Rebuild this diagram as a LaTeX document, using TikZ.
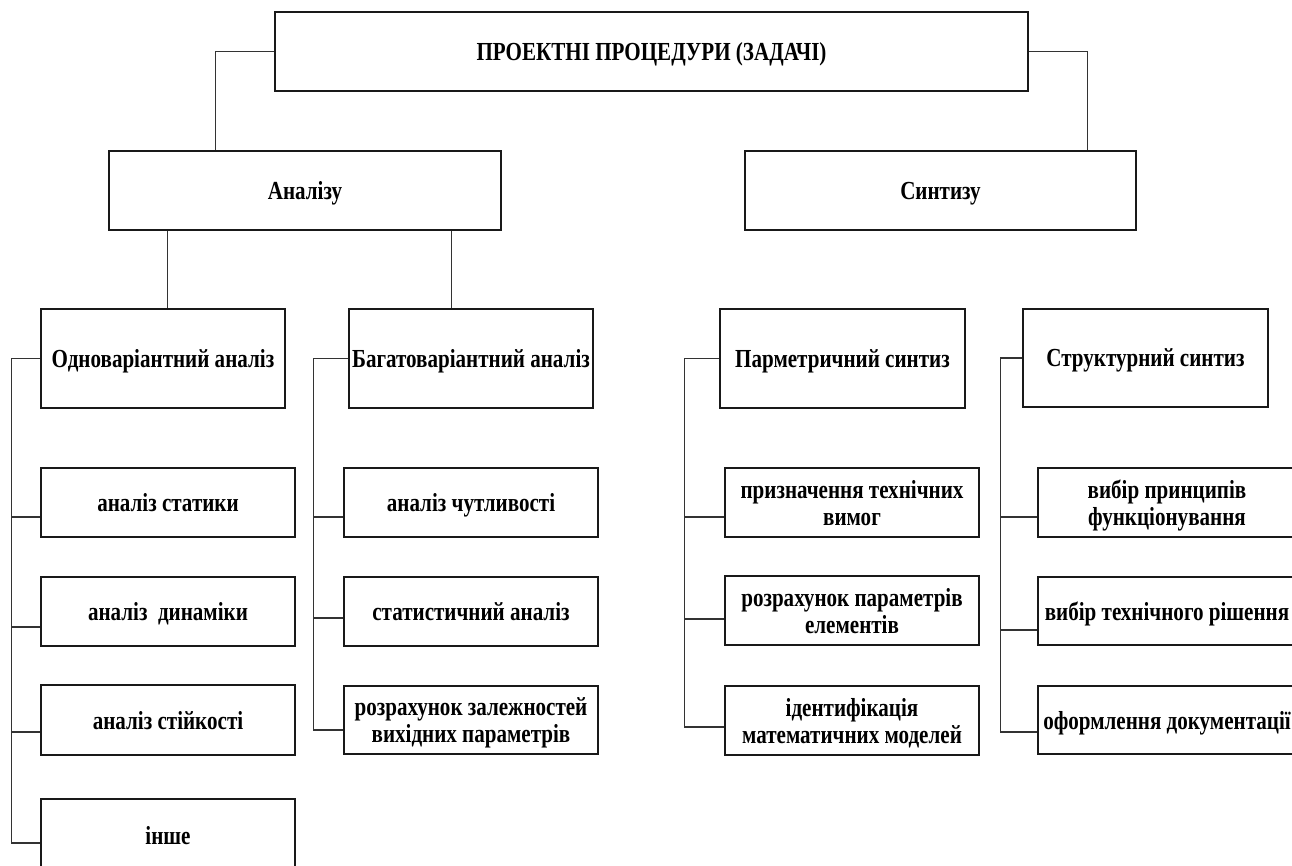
\documentclass[tikz,border=0pt]{standalone}
\usepackage{fontspec}
\setmainfont{Liberation Serif}[FakeStretch=0.81]
\begin{document}
\begin{tikzpicture}[x=1pt,y=-1pt,
  box/.style={draw=black!90, line width=1.2pt, rectangle, inner sep=0pt,
    align=center, text depth=0pt, font=\fontsize{26}{27}\selectfont\bfseries},
  link/.style={draw=black!80, line width=1.2pt}]
\useasboundingbox (0,0) rectangle (1292,866);
\clip (0,0) rectangle (1292,866);

% upper levels
\node[box, minimum width=753, minimum height=79] (top) at (651.5,51.5) {ПРОЕКТНІ ПРОЦЕДУРИ (ЗАДАЧІ)};
\node[box, minimum width=392, minimum height=79] (an)  at (305,190.5)   {Аналізу};
\node[box, minimum width=391, minimum height=79] (syn) at (940.5,190.5) {Синтизу};

% group heads
\node[box, minimum width=244, minimum height=99] (odn) at (163,358.5)   {Одноваріантний аналіз};
\node[box, minimum width=244, minimum height=99] (bag) at (471,358.5)   {Багатоваріантний аналіз};
\node[box, minimum width=245, minimum height=99] (par) at (842.5,358.5) {Парметричний синтиз};
\node[box, minimum width=245, minimum height=98] (str) at (1145.5,358)  {Структурний синтиз};

% one-variant analysis items
\node[box, minimum width=254, minimum height=69] (stat)  at (168,502.5) {аналіз статики};
\node[box, minimum width=254, minimum height=69] (dyn)   at (168,611.5) {аналіз\ \ динаміки};
\node[box, minimum width=254, minimum height=70] (stiy)  at (168,720)   {аналіз стійкості};
\node[box, minimum width=254, minimum height=72] (inshe) at (168,835)   {інше};

% multi-variant analysis items
\node[box, minimum width=254, minimum height=69] (chut)  at (471,502.5) {аналіз чутливості};
\node[box, minimum width=254, minimum height=69] (stat2) at (471,611.5) {статистичний аналіз};
\node[box, minimum width=254, minimum height=68] (rozr)  at (471,720)   {розрахунок залежностей\\вихідних параметрів};

% parametric synthesis items
\node[box, minimum width=254, minimum height=69] (pryzn) at (852,502.5) {призначення технічних\\вимог};
\node[box, minimum width=254, minimum height=69] (rozp)  at (852,610.5) {розрахунок параметрів\\елементів};
\node[box, minimum width=254, minimum height=69] (ident) at (852,720.5) {ідентифікація\\математичних моделей};

% structural synthesis items
\node[box, minimum width=258, minimum height=69] (vybp)  at (1167,502.5) {вибір принципів\\функціонування};
\node[box, minimum width=258, minimum height=68] (vybt)  at (1167,611)   {вибір технічного рішення};
\node[box, minimum width=258, minimum height=68] (oform) at (1167,720)   {оформлення документації};

% top-level links
\draw[link] (top.west) -| ([xshift=107pt]an.north west);
\draw[link] (top.east) -| ([xshift=-49pt]syn.north east);

\coordinate (a1) at ([xshift=59pt]an.south west);
\coordinate (a2) at ([xshift=343pt]an.south west);
\draw[link] (a1) -- (a1 |- odn.north);
\draw[link] (a2) -- (a2 |- bag.north);

% left spine
\coordinate (s1) at ([xshift=-29pt]odn.west);
\draw[link] (odn.west) -- (s1);
\draw[link] (s1) |- ([yshift=-14.5pt]stat.west);
\draw[link] (s1) |- ([yshift=-15.5pt]dyn.west);
\draw[link] (s1) |- ([yshift=-12pt]stiy.west);
\draw[link] (s1) |- ([yshift=-8pt]inshe.west);

% second spine
\coordinate (s2) at ([xshift=-35pt]bag.west);
\draw[link] (bag.west) -- (s2);
\draw[link] (s2) |- ([yshift=-14.5pt]chut.west);
\draw[link] (s2) |- ([yshift=-6.5pt]stat2.west);
\draw[link] (s2) |- ([yshift=-10pt]rozr.west);

% third spine
\coordinate (s3) at ([xshift=-35pt]par.west);
\draw[link] (par.west) -- (s3);
\draw[link] (s3) |- ([yshift=-14.5pt]pryzn.west);
\draw[link] (s3) |- ([yshift=-8.5pt]rozp.west);
\draw[link] (s3) |- ([yshift=-6.5pt]ident.west);

% fourth spine
\coordinate (s4) at ([xshift=-22pt]str.west);
\draw[link] (str.west) -- (s4);
\draw[link] (s4) |- ([yshift=-14.5pt]vybp.west);
\draw[link] (s4) |- ([yshift=-19pt]vybt.west);
\draw[link] (s4) |- ([yshift=-12pt]oform.west);
\end{tikzpicture}
\end{document}
